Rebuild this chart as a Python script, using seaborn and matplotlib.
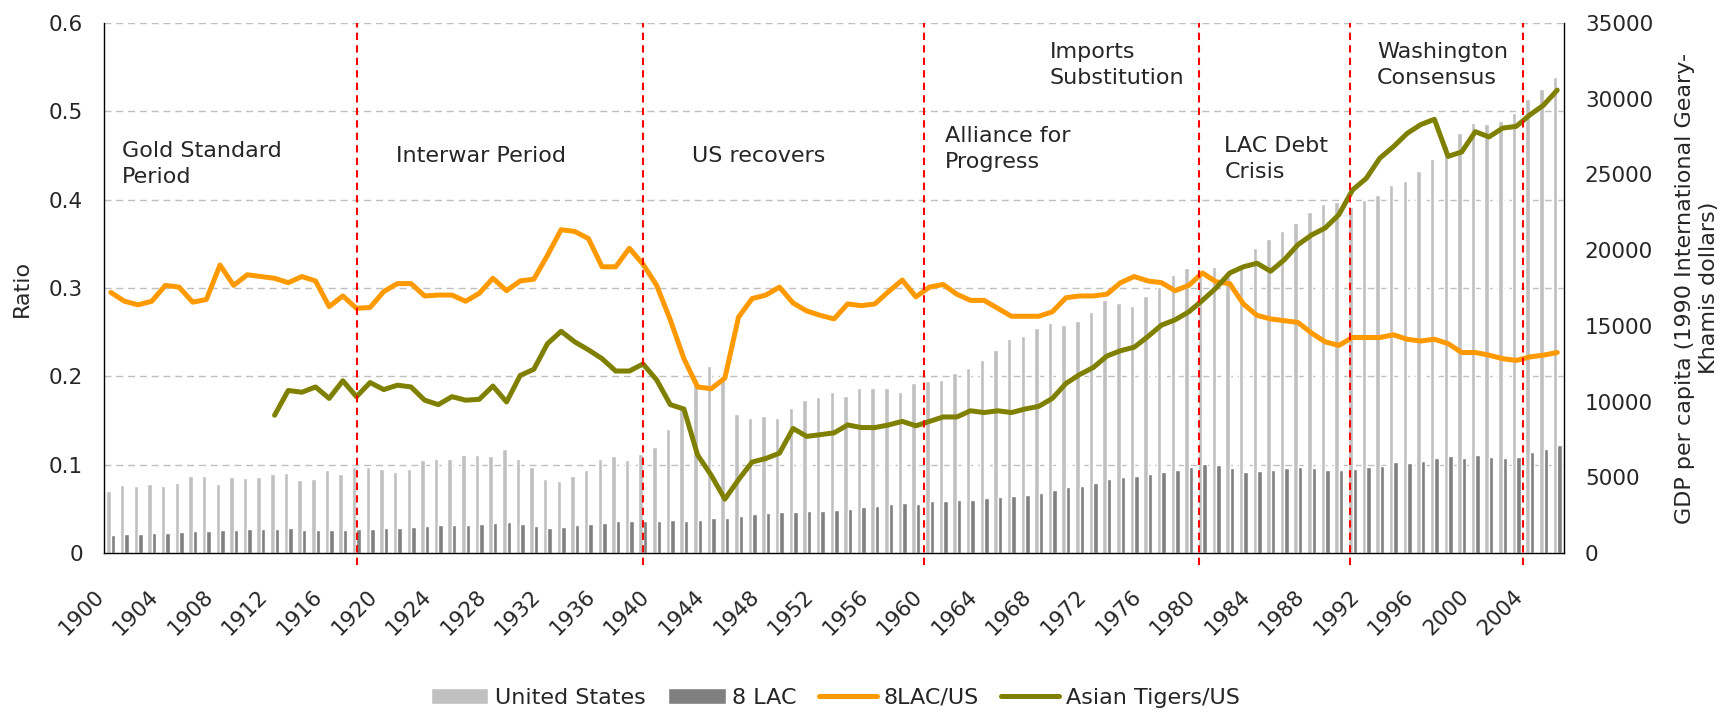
import seaborn as sns
import matplotlib.pyplot as plt
import matplotlib.transforms as mtransforms
from matplotlib.patches import Patch
from matplotlib.lines import Line2D
import pandas as pd
import numpy as np

years = list(range(1900, 2007))

us_gdp = [4091, 4464, 4421, 4551, 4410, 4642, 5079, 5065, 4560, 5017,
          4964, 5046, 5201, 5301, 4799, 4864, 5459, 5248, 5659, 5680,
          5552, 5323, 5540, 6164, 6233, 6224, 6481, 6441, 6404, 6899,
          6213, 5691, 4908, 4777, 5114, 5467, 6204, 6430, 6126, 6561,
          7010, 8206, 9741, 11518, 12333, 11709, 9197, 8886, 9065, 8944,
          9561, 10116, 10316, 10613, 10359, 10897, 10914, 10920, 10631, 11230,
          11328, 11402, 11905, 12242, 12773, 13419, 14134, 14330, 14863, 15179,
          15030, 15304, 15944, 16689, 16491, 16284, 16975, 17567, 18373, 18789,
          18577, 18856, 18325, 18920, 20123, 20717, 21236, 21788, 22499, 23059,
          23201, 22849, 23298, 23616, 24284, 24550, 25230, 26020, 26900, 27740,
          28400, 28350, 28530, 29060, 29980, 30640, 31450]

lac_gdp = [1207, 1272, 1242, 1297, 1336, 1397, 1442, 1454, 1487, 1520,
           1564, 1579, 1618, 1622, 1502, 1498, 1523, 1527, 1568, 1579,
           1643, 1624, 1690, 1794, 1820, 1817, 1847, 1894, 1992, 2049,
           1914, 1764, 1654, 1748, 1861, 1946, 2010, 2083, 2113, 2145,
           2124, 2166, 2143, 2165, 2294, 2318, 2456, 2559, 2647, 2692,
           2706, 2772, 2775, 2812, 2921, 3051, 3078, 3232, 3285, 3257,
           3410, 3466, 3488, 3501, 3653, 3717, 3788, 3840, 3983, 4144,
           4344, 4453, 4640, 4890, 5046, 5097, 5228, 5376, 5457, 5693,
           5889, 5789, 5589, 5335, 5413, 5490, 5585, 5687, 5602, 5511,
           5452, 5575, 5685, 5762, 5998, 5941, 6055, 6297, 6375, 6297,
           6447, 6350, 6277, 6335, 6656, 6863, 7139]

lac_us = [0.295, 0.285, 0.281, 0.285, 0.303, 0.301, 0.284, 0.287, 0.326, 0.303,
          0.315, 0.313, 0.311, 0.306, 0.313, 0.308, 0.279, 0.291, 0.277, 0.278,
          0.296, 0.305, 0.305, 0.291, 0.292, 0.292, 0.285, 0.294, 0.311, 0.297,
          0.308, 0.310, 0.337, 0.366, 0.364, 0.356, 0.324, 0.324, 0.345, 0.327,
          0.303, 0.264, 0.220, 0.188, 0.186, 0.198, 0.267, 0.288, 0.292, 0.301,
          0.283, 0.274, 0.269, 0.265, 0.282, 0.280, 0.282, 0.296, 0.309, 0.290,
          0.301, 0.304, 0.293, 0.286, 0.286, 0.277, 0.268, 0.268, 0.268, 0.273,
          0.289, 0.291, 0.291, 0.293, 0.306, 0.313, 0.308, 0.306, 0.297, 0.303,
          0.317, 0.307, 0.305, 0.282, 0.269, 0.265, 0.263, 0.261, 0.249, 0.239,
          0.235, 0.244, 0.244, 0.244, 0.247, 0.242, 0.240, 0.242, 0.237, 0.227,
          0.227, 0.224, 0.220, 0.218, 0.222, 0.224, 0.227]

tigers_years = list(range(1912, 2007))
tigers_us = [0.156, 0.184, 0.182, 0.188, 0.175, 0.195, 0.177, 0.193,
             0.185, 0.190, 0.188, 0.173, 0.168, 0.177, 0.173, 0.174, 0.189, 0.171,
             0.201, 0.208, 0.237, 0.251, 0.239, 0.230, 0.220, 0.206, 0.206, 0.214,
             0.196, 0.168, 0.163, 0.111, 0.088, 0.061, 0.083, 0.103, 0.107, 0.113,
             0.141, 0.132, 0.134, 0.136, 0.145, 0.142, 0.142, 0.145, 0.149, 0.144,
             0.149, 0.154, 0.154, 0.161, 0.159, 0.161, 0.159, 0.163, 0.166, 0.175,
             0.192, 0.202, 0.210, 0.223, 0.229, 0.233, 0.245, 0.258, 0.264, 0.273,
             0.286, 0.300, 0.317, 0.324, 0.328, 0.319, 0.332, 0.349, 0.360, 0.368,
             0.383, 0.411, 0.424, 0.447, 0.460, 0.475, 0.485, 0.491, 0.449, 0.454,
             0.477, 0.471, 0.481, 0.483, 0.496, 0.507, 0.524]

period_breaks = [1918.07, 1939.02, 1959.57, 1979.75, 1990.78, 2003.5]
period_labels = [("Gold Standard\nPeriod", 1900.8, 0.466),
                 ("Interwar Period", 1920.9, 0.461),
                 ("US recovers", 1942.6, 0.461),
                 ("Alliance for\nProgress", 1961.1, 0.483),
                 ("Imports\nSubstitution", 1968.8, 0.578),
                 ("LAC Debt\nCrisis", 1981.6, 0.472),
                 ("Washington\nConsensus", 1992.8, 0.578)]

ratio_ticks = [0, 0.1, 0.2, 0.3, 0.4, 0.5, 0.6]
ratio_labels = ["0", "0.1", "0.2", "0.3", "0.4", "0.5", "0.6"]
gdp_ticks = [0, 5000, 10000, 15000, 20000, 25000, 30000, 35000]

sns.set_style("white")
plt.rcParams['font.family'] = ['DejaVu Sans']

c_us, c_lac = "#C0C0C0", "#808080"
c_ratio, c_tigers = "#FF9900", "#808000"

bars = pd.DataFrame({
    "year": years * 2,
    "series": ["United States"] * len(years) + ["8 LAC"] * len(years),
    "gdp": us_gdp + lac_gdp,
})

fig = plt.figure(figsize=(17.28, 7.12), dpi=100)
ax = fig.add_subplot(111)
fig.subplots_adjust(left=0.0602, right=0.9051, bottom=0.2233, top=0.9677)
ax2 = ax.twinx()

# bars on the secondary (right) axis, drawn underneath the ratio lines
sns.barplot(data=bars, x="year", y="gdp", hue="series",
            hue_order=["United States", "8 LAC"],
            palette={"United States": c_us, "8 LAC": c_lac},
            width=0.66, saturation=1, errorbar=None, legend=False, ax=ax2)
ax2.set_ylim(0, 35000)
ax2.set_yticks(gdp_ticks)
ax2.set_ylabel("")
for r in ratio_ticks[1:]:
    ax2.axhline(r / ratio_ticks[-1] * gdp_ticks[-1], color="#BFBFBF", lw=1,
                ls=(0, (5, 3.5)), zorder=0)

pos = [y - years[0] for y in years]
tpos = [y - years[0] for y in tigers_years]
sns.lineplot(x=pos, y=lac_us, color=c_ratio, lw=3.6, ax=ax,
             solid_joinstyle="round", solid_capstyle="round")
sns.lineplot(x=tpos, y=tigers_us, color=c_tigers, lw=3.6, ax=ax,
             solid_joinstyle="round", solid_capstyle="round")

ax.vlines([b - years[0] for b in period_breaks], -0.0136, 0.6, colors="#FF0000",
          linestyles=(0, (3.5, 2.5)), lw=1.5, clip_on=False, zorder=3)

for txt, xv, yv in period_labels:
    ax.text(xv - years[0], yv, txt, fontsize=16, ha="left", va="top",
            linespacing=1.35)

ax.set_zorder(ax2.get_zorder() + 1)
ax.patch.set_visible(False)

ax.set_xlim(-0.5, len(years) - 0.5)
ax.set_ylim(0, 0.6)
ax.set_yticks(ratio_ticks)
ax.set_yticklabels(ratio_labels)
tick_years = years[::4][:27]
ax.set_xticks([y - years[0] for y in tick_years])
ax.set_xticklabels([str(y) for y in tick_years], rotation=45, ha="right",
                   va="center", rotation_mode="anchor")
ax.set_xlabel("")
ax.set_ylabel("")
ax.tick_params(axis="both", length=0, labelsize=15.5)
ax.tick_params(axis="y", pad=15)
ax.tick_params(axis="x", pad=29)
ax2.tick_params(axis="y", length=0, labelsize=15.5, pad=15)
offset = mtransforms.ScaledTranslation(-0.1, 0, fig.dpi_scale_trans)
for lab in ax.get_xticklabels():
    lab.set_transform(lab.get_transform() + offset)

for s in ["top", "right"]:
    ax.spines[s].set_visible(False)
for s in ["top", "left", "bottom"]:
    ax2.spines[s].set_visible(False)
for s in ["left", "bottom"]:
    ax.spines[s].set_color("black")
    ax.spines[s].set_linewidth(1)
ax2.spines["right"].set_color("black")
ax2.spines["right"].set_linewidth(1)

fig.text(22 / 1728, 0.5955, "Ratio", rotation=90, ha="center", va="center",
         fontsize=16)
fig.text(1697 / 1728, 0.5955, "GDP per capita (1990 International Geary-\nKhamis dollars)",
         rotation=90, ha="center", va="center", multialignment="center",
         fontsize=16, linespacing=1.3)

handles = [Patch(facecolor=c_us), Patch(facecolor=c_lac),
           Line2D([], [], color=c_ratio, lw=3.6), Line2D([], [], color=c_tigers, lw=3.6)]
fig.legend(handles, ["United States", "8 LAC", "8LAC/US", "Asian Tigers/US"],
           loc="center", bbox_to_anchor=(0.4832, 0.0197), ncol=4, frameon=False,
           fontsize=16, handlelength=2.6, handletextpad=0.3, columnspacing=1.0)

fig.savefig("out.png", dpi=100)
